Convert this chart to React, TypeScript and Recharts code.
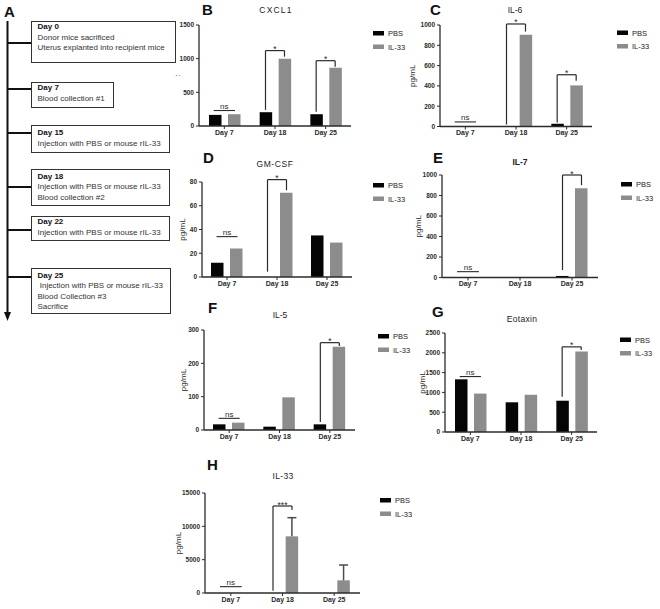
import React from 'react';
import { BarChart, Bar, XAxis, YAxis, ReferenceLine } from 'recharts';

const FONT = '"Liberation Sans", Arial, sans-serif';
const BLACK = '#050505';
const GREY = '#8c8c8c';
const INK = '#2b2b2b';

const days = ['Day 7', 'Day 18', 'Day 25'];

// B - CXCL1
const cxcl1Pbs = [165, 205, 175];
const cxcl1Il33 = [175, 1000, 865];
const cxcl1Ticks = [0, 500, 1000, 1500];
// C - IL-6
const il6Pbs = [5, 5, 27];
const il6Il33 = [3, 905, 405];
const il6Ticks = [0, 200, 400, 600, 800, 1000];
// D - GM-CSF
const gmcsfPbs = [12, 0, 35];
const gmcsfIl33 = [24, 71, 29];
const gmcsfTicks = [0, 20, 40, 60, 80];
// E - IL-7
const il7Pbs = [0, 0, 15];
const il7Il33 = [0, 0, 870];
const il7Ticks = [0, 200, 400, 600, 800, 1000];
// F - IL-5
const il5Pbs = [17, 10, 17];
const il5Il33 = [22, 98, 250];
const il5Ticks = [0, 100, 200, 300];
// G - Eotaxin
const eotaxinPbs = [1330, 750, 790];
const eotaxinIl33 = [970, 940, 2030];
const eotaxinTicks = [0, 500, 1000, 1500, 2000, 2500];
// H - IL-33 (with SEM, upper whisker only)
const il33Pbs = [0, 0, 0];
const il33Il33 = [0, 8500, 1900];
const il33Err = [null, 2800, 2300];
const il33Ticks = [0, 5000, 10000, 15000];

// significance marks: ns line height, or bracket top / left leg end / right leg end
const cxcl1Sig = [
  { day: 0, mark: 'ns', top: 230 },
  { day: 1, mark: '*', top: 1120, left: 240, right: 1030 },
  { day: 2, mark: '*', top: 970, left: 210, right: 880 },
];
const il6Sig = [
  { day: 0, mark: 'ns', top: 45 },
  { day: 1, mark: '*', top: 1010, left: 20, right: 935 },
  { day: 2, mark: '*', top: 510, left: 40, right: 450 },
];
const gmcsfSig = [
  { day: 0, mark: 'ns', top: 34 },
  { day: 1, mark: '*', top: 82, left: 4.5, right: 73 },
];
const il7Sig = [
  { day: 0, mark: 'ns', top: 57 },
  { day: 2, mark: '*', top: 1000, left: 73, right: 900 },
];
const il5Sig = [
  { day: 0, mark: 'ns', top: 35 },
  { day: 2, mark: '*', top: 262, left: 24, right: 252 },
];
const eotaxinSig = [
  { day: 0, mark: 'ns', top: 1400 },
  { day: 2, mark: '*', top: 2150, left: 890, right: 2070 },
];
const il33Sig = [
  { day: 0, mark: 'ns', top: 950 },
  { day: 1, mark: '***', top: 13050, left: 345, right: 12450 },
];

const timeline = [
  { top: 21, h: 42, w: 145, pad: 0, conn: 43, lines: ['Day 0', 'Donor mice sacrificed', 'Uterus explanted into recipient mice'] },
  { top: 82, h: 26, w: 83, pad: 0, conn: 89, lines: ['Day 7', 'Blood collection #1'] },
  { top: 125, h: 28, w: 139, pad: 2, conn: 133, lines: ['Day 15', 'Injection with PBS or mouse rIL-33'] },
  { top: 169, h: 37, w: 139, pad: 1.5, conn: 187, lines: ['Day 18', 'Injection with PBS or mouse rIL-33', 'Blood collection #2'] },
  { top: 216, h: 25, w: 139, pad: 0, conn: 230, lines: ['Day 22', 'Injection with PBS or mouse rIL-33'] },
  { top: 268, h: 46, w: 140, pad: 1.5, conn: 277, lines: ['Day 25', '\u00a0Injection with PBS or mouse rIL-33', 'Blood Collection #3', 'Sacrifice'] },
];

const panels = [
  { id: 'B', title: 'CXCL1', spacing: 1.2, bold: false, pbs: cxcl1Pbs, il33: cxcl1Il33, ticks: cxcl1Ticks, sig: cxcl1Sig,
    box: { x0: 199, x1: 351, yTop: 25, yBot: 126 }, ylabel: ':', ld: 22,
    letter: [202, 15], titleAt: [276, 13], legend: [373, 31] },
  { id: 'C', title: 'IL-6', spacing: 0, bold: false, pbs: il6Pbs, il33: il6Il33, ticks: il6Ticks, sig: il6Sig,
    box: { x0: 440, x1: 592, yTop: 25, yBot: 126.5 }, ylabel: 'pg/mL', ld: 28,
    letter: [430, 15], titleAt: [515, 13], legend: [617, 30.5] },
  { id: 'D', title: 'GM-CSF', spacing: 0.6, bold: false, pbs: gmcsfPbs, il33: gmcsfIl33, ticks: gmcsfTicks, sig: gmcsfSig,
    box: { x0: 202, x1: 352, yTop: 182, yBot: 277 }, ylabel: 'pg/mL', ld: 20,
    letter: [203, 163], titleAt: [275, 167], legend: [373, 183] },
  { id: 'E', title: 'IL-7', spacing: 0, bold: true, pbs: il7Pbs, il33: il7Il33, ticks: il7Ticks, sig: il7Sig,
    box: { x0: 442, x1: 598, yTop: 175, yBot: 277.5 }, ylabel: 'pg/mL', ld: 24,
    letter: [433, 163], titleAt: [520, 165], legend: [621, 182] },
  { id: 'F', title: 'IL-5', spacing: 0, bold: false, pbs: il5Pbs, il33: il5Il33, ticks: il5Ticks, sig: il5Sig,
    box: { x0: 204, x1: 355, yTop: 330, yBot: 430 }, ylabel: 'pg/mL', ld: 21,
    letter: [208, 313], titleAt: [280, 318], legend: [378, 334] },
  { id: 'G', title: 'Eotaxin', spacing: 0.3, bold: false, pbs: eotaxinPbs, il33: eotaxinIl33, ticks: eotaxinTicks, sig: eotaxinSig,
    box: { x0: 445, x1: 597, yTop: 333, yBot: 432 }, ylabel: 'pg/mL', ld: 23,
    letter: [432, 317], titleAt: [522, 322], legend: [620, 337.5] },
  { id: 'H', title: 'IL-33', spacing: 0.3, bold: false, pbs: il33Pbs, il33: il33Il33, err: il33Err, ticks: il33Ticks, sig: il33Sig,
    box: { x0: 205, x1: 360, yTop: 493, yBot: 593 }, ylabel: 'pg/mL', ld: 27,
    letter: [207, 470], titleAt: [283, 479], legend: [380, 498] },
];

const AX = 45;
const PT = 14;
const PR = 6;
const XH = 16;

// gray bar plus an upper-only SEM whisker, scaled from the bar's own height
const WhiskerBar = (props: any) => {
  const { x, y, width, height, fill, payload } = props;
  const hi = payload?.err;
  const k = payload?.il33 > 0 ? height / payload.il33 : 0;
  const cx = x + width / 2;
  const top = y - (hi || 0) * k;
  return (
    <g>
      <rect x={x} y={y} width={width} height={height} fill={fill} />
      {hi && k ? (
        <g stroke="#4a4a4a" strokeWidth={1.5}>
          <line x1={cx} y1={y} x2={cx} y2={top} />
          <line x1={cx - 4.5} y1={top} x2={cx + 4.5} y2={top} />
        </g>
      ) : null}
    </g>
  );
};

function Panel({ cfg }: { cfg: any }) {
  const { x0, x1, yTop, yBot } = cfg.box;
  const width = x1 - x0 + AX + PR;
  const height = yBot - yTop + PT + XH;
  const band = (x1 - x0) / 3;
  const off = 9.5 / band;
  const max = cfg.ticks[cfg.ticks.length - 1];
  const data = days.map((d, i) => ({
    day: d,
    slot: i + 0.5,
    pbs: cfg.pbs[i],
    il33: cfg.il33[i],
    err: cfg.err ? cfg.err[i] : null,
  }));

  const marks: React.ReactNode[] = [];
  cfg.sig.forEach((s: any, k: number) => {
    const c = s.day + 0.5;
    if (s.mark === 'ns') {
      marks.push(
        <ReferenceLine key={`ns${k}`} xAxisId="pos" ifOverflow="visible" stroke={INK} strokeWidth={1.1}
          segment={[{ x: c - 0.21, y: s.top }, { x: c + 0.21, y: s.top }]}
          label={{ value: 'ns', position: 'top', offset: 1.5, fontSize: 8, fill: INK }} />
      );
      return;
    }
    const a = c - off;
    const b = c + off;
    marks.push(
      <ReferenceLine key={`t${k}`} xAxisId="pos" ifOverflow="visible" stroke={INK} strokeWidth={1.2}
        segment={[{ x: a, y: s.top }, { x: b, y: s.top }]}
        label={{ value: s.mark, position: 'top', offset: -1.5, fontSize: 8.5, fill: INK }} />,
      <ReferenceLine key={`l${k}`} xAxisId="pos" ifOverflow="visible" stroke={INK} strokeWidth={1.2}
        segment={[{ x: a, y: s.top }, { x: a, y: s.left }]} />,
      <ReferenceLine key={`r${k}`} xAxisId="pos" ifOverflow="visible" stroke={INK} strokeWidth={1.2}
        segment={[{ x: b, y: s.top }, { x: b, y: s.right }]} />
    );
  });

  return (
    <div style={{ position: 'absolute', left: x0 - AX, top: yTop - PT }}>
      <BarChart width={width} height={height} data={data}
        margin={{ top: PT, right: PR, bottom: 0, left: 0 }} barSize={12.5} barGap={6.5}>
        <XAxis dataKey="day" height={XH} interval={0} tickSize={3} tickMargin={1}
          tick={{ fontSize: 7, fontWeight: 700, fill: INK }}
          axisLine={{ stroke: INK, strokeWidth: 1.3 }} tickLine={{ stroke: INK }} />
        <XAxis xAxisId="pos" dataKey="slot" type="number" domain={[0, 3]} allowDataOverflow hide />
        <YAxis width={AX} domain={[0, max]} ticks={cfg.ticks} interval={0} tickSize={3} tickMargin={2}
          tick={{ fontSize: 6.5, fontWeight: 700, fill: INK }}
          axisLine={{ stroke: INK, strokeWidth: 1.3 }} tickLine={{ stroke: INK }}
          label={{ value: cfg.ylabel, angle: -90, position: 'insideLeft', offset: AX - cfg.ld,
            style: { textAnchor: 'middle', fontSize: 8, fill: INK } }} />
        <Bar dataKey="pbs" fill={BLACK} isAnimationActive={false} />
        <Bar dataKey="il33" fill={GREY} isAnimationActive={false} shape={cfg.err ? WhiskerBar : undefined} />
        {marks}
      </BarChart>
    </div>
  );
}

function Timeline() {
  return (
    <>
      <svg width={40} height={330} style={{ position: 'absolute', left: 0, top: 0 }}>
        <line x1={7.5} y1={21} x2={7.5} y2={314} stroke="#111" strokeWidth={2} />
        <polygon points="4,312 11,312 7.5,321" fill="#111" />
        {timeline.map((t, i) => (
          <line key={i} x1={7.5} y1={t.conn} x2={31} y2={t.conn} stroke="#111" strokeWidth={2} />
        ))}
      </svg>
      {timeline.map((t, i) => (
        <div key={i} style={{
          position: 'absolute', left: 31, top: t.top, width: t.w, height: t.h, boxSizing: 'border-box',
          border: '1px solid #333', paddingTop: t.pad, paddingLeft: 5.5, fontSize: 8, lineHeight: '10.5px',
          color: '#333', whiteSpace: 'nowrap', background: '#fff',
        }}>
          {t.lines.map((l, j) => (
            <div key={j} style={j === 0 ? { fontWeight: 700, color: '#111' } : undefined}>{l}</div>
          ))}
        </div>
      ))}
    </>
  );
}

export default function App() {
  return (
    <div style={{ position: 'absolute', left: 0, top: 0, width: 660, height: 609, background: '#fff', fontFamily: FONT, overflow: 'hidden' }}>
      <Timeline />
      {panels.map((p) => <Panel key={p.id} cfg={p} />)}
      <svg width={660} height={609} style={{ position: 'absolute', left: 0, top: 0, pointerEvents: 'none' }}>
        <text x={4} y={17} fontSize={15} fontWeight={700} fill="#111">A</text>
        {panels.map((p) => (
          <g key={p.id}>
            <text x={p.letter[0]} y={p.letter[1]} fontSize={15} fontWeight={700} fill="#111">{p.id}</text>
            <text x={p.titleAt[0]} y={p.titleAt[1]} fontSize={8.5} fontWeight={p.bold ? 700 : 400} textAnchor="middle"
              letterSpacing={p.spacing} fill="#222">{p.title}</text>
            <rect x={p.legend[0]} y={p.legend[1]} width={11} height={4.5} fill={BLACK} />
            <text x={p.legend[0] + 15} y={p.legend[1] + 5} fontSize={7.5} fill="#222">PBS</text>
            <rect x={p.legend[0]} y={p.legend[1] + 13.5} width={11} height={4.5} fill={GREY} />
            <text x={p.legend[0] + 15} y={p.legend[1] + 18.5} fontSize={7.5} fill="#222">IL-33</text>
          </g>
        ))}
      </svg>
    </div>
  );
}
